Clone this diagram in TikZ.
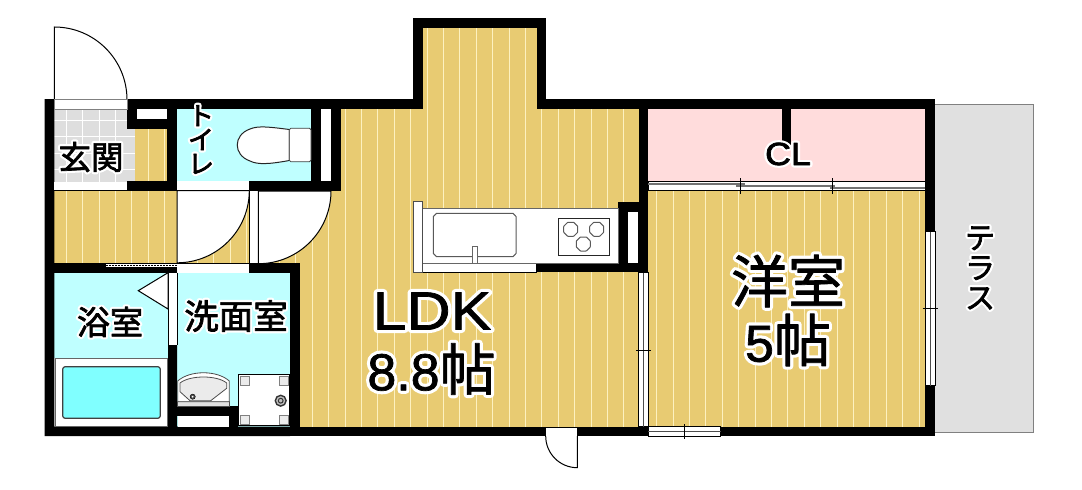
\documentclass[tikz,border=0pt]{standalone}
\usepackage{fontspec}
\setmainfont{Noto Sans CJK JP}
\newfontfamily\latinfont{Liberation Sans}
\definecolor{woodfill}{HTML}{E8CB72}
\definecolor{woodline}{HTML}{FDF1C0}
\definecolor{wetfill}{HTML}{BFFFFF}
\definecolor{tubfill}{HTML}{80FFFF}
\definecolor{closetfill}{HTML}{FFDCDC}
\definecolor{tilefill}{HTML}{DEDEDE}
\definecolor{terracefill}{HTML}{E0E0E0}
\tikzset{
 wall/.style={fill=black, draw=none},
 opening/.style={fill=white, draw=black, line width=0.8pt},
 doorleaf/.style={fill=white, draw=black, line width=1pt},
 fitting/.style={fill=white, draw=black!60, line width=1pt},
 tick/.style={draw=black, line width=0.8pt},
 rail/.style={draw=black!55, line width=1.4pt},
 roomlabel/.style={inner sep=0pt}
}
\newcommand{\halo}[2][5]{\leavevmode\rlap{\color{white}\special{pdf:code #1 w 1 j 1 J 2 Tr}#2\special{pdf:code 0 Tr}}\color{black}\special{pdf:code 0.7 w 1 j 2 Tr}#2\special{pdf:code 0 Tr}}
\begin{document}
\begin{tikzpicture}[x=1pt, y=-1pt]
\useasboundingbox (0,0) rectangle (1082,490);
\fill[white] (0,0) rectangle (1082,490);

% terrace
\draw[fill=terracefill, draw=black!50, line width=0.8pt] (935,104)--(1033,104)--(1033,432)--(935,432);

% floors
\fill[woodfill] (341,109)--(423,109)--(423,28)--(537,28)--(537,109)--(640,109)--(640,427)--(300,427)--(300,263)--(249,263)--(249,190)--(341,190)--cycle;
\fill[woodfill] (648,190) rectangle (925,427);
\fill[woodfill] (54,190) rectangle (249,264);
\fill[woodfill] (134.7,129) rectangle (168,182);
\begin{scope}
 \clip (341,109)--(423,109)--(423,28)--(537,28)--(537,109)--(640,109)--(640,427)--(300,427)--(300,263)--(249,263)--(249,190)--(341,190)--cycle
 (648,190) rectangle (925,427)
 (54,190) rectangle (249,264)
 (134.7,129) rectangle (168,182);
 \foreach \k in {0,...,52} {
  \draw[woodline, line width=1pt] ({66.3+16.4*\k},0)--({66.3+16.4*\k},440);
 }
\end{scope}
\fill[wetfill] (177,109) rectangle (311,181.5);
\fill[wetfill] (54,273) rectangle (168,358);
\fill[wetfill] (177,273) rectangle (290,427);
\fill[closetfill] (648,109) rectangle (925,181);

% entry tiles
\fill[tilefill] (54,109) rectangle (134.7,181.5);
\foreach \k in {0,...,3} {
 \draw[white, line width=1pt] ({66.3+16.4*\k},109)--({66.3+16.4*\k},181.5);
 \draw[white, line width=1pt] (54,{120+16.6*\k})--(134.7,{120+16.6*\k});
}

% walls
\fill[wall] (44.5,99)--(127,99)--(127,109)--(54.3,109)--(54.3,426.7)--(168,426.7)--(168,345)--(177,345)--(177,426.7)--(290,426.7)--(290,436)--(44.5,436)--cycle;
\fill[wall] (127,99) rectangle (341,109);
\fill[wall] (127,109) rectangle (136.7,129);
\fill[wall] (136.7,119.3) rectangle (177,129);
\fill[wall] (167.3,109) rectangle (177,190.5);
\fill[wall] (127,181.3) rectangle (177,190.5);
\fill[wall] (249.3,181.3) rectangle (341,191);
\fill[wall] (311,99) rectangle (321,191);
\fill[wall] (331,99) rectangle (341,191);
\fill[wall] (54,263.3) rectangle (106,272.7);
\fill[wall] (106,267) rectangle (177,272.7);
\fill[wall] (249.3,263.3) rectangle (300,272.7);
\fill[wall] (290,263.3) rectangle (300,436);
\fill[wall] (177,406) rectangle (238,416);
\fill[wall] (229,406) rectangle (238.3,436);
\fill[wall] (290,426.7) rectangle (925,436);
\fill[wall] (341,99) rectangle (423.3,109);
\fill[wall] (413.3,18) rectangle (423.3,109);
\fill[wall] (413.3,18) rectangle (546,28);
\fill[wall] (536.7,18) rectangle (546,109);
\fill[wall] (536.7,99) rectangle (935,109);
\fill[wall] (638.5,99) rectangle (648.3,272.5);
\fill[wall] (925,99) rectangle (935,436);
\fill[wall] (782,109) rectangle (791.3,145);

% entry door
\draw[doorleaf] (54.3,99)--(54.3,27) arc[start angle=270, end angle=360, radius=72.7];
\draw[fill=white, draw=black!50, line width=0.8pt] (54.3,99) rectangle (127,109);
\fill[white] (54.3,181.5) rectangle (127,190.3);
\draw[black, line width=0.8pt] (54.3,190.3)--(127,190.3);

% toilet and corridor doors
\fill[white] (177,181.3) rectangle (249.3,190.5);
\draw[black, line width=0.8pt] (177,190.5)--(249.3,190.5);
\draw[doorleaf] (249.3,190.5)--(177,190.5)--(177,262.8) arc[start angle=90, end angle=0, radius=72.3];
\fill[white] (249.3,191) rectangle (258.3,263.3);
\draw[black, line width=0.8pt] (249.3,191)--(249.3,263.3) (258.3,191)--(258.3,263.3);
\draw[doorleaf] (331,191)--(258.3,191)--(258.3,263.7) arc[start angle=90, end angle=0, radius=72.7];
\fill[white] (177,263.3) rectangle (249.3,272.7);
\draw[black, line width=0.6pt] (177,263.3)--(249.3,263.3);

% bath sliding door
\fill[white] (106,263.3) rectangle (177,267);
\draw[black, line width=0.6pt] (106,263.3)--(177,263.3);
\draw[black, line width=0.6pt, dash pattern=on 2pt off 1pt] (106,265.5)--(177,265.5);

% bath door and tub
\fill[white] (168,272.7) rectangle (177,345);
\draw[black, line width=0.8pt] (168,272.7)--(168,345) (177,272.7)--(177,345);
\draw[doorleaf] (168,272.7)--(168,309)--(138.3,290.7)--cycle;
\draw[fill=white, draw=black!60, line width=0.8pt] (55.3,358.3) rectangle (167.3,426);
\draw[fill=tubfill, draw=black!75, line width=1.2pt, rounded corners=2.5pt] (62.7,366.7) rectangle (160.3,418.3);

% wash basin
\fill[white] (177.5,416) rectangle (229,426.7);
\draw[fill=black!12, draw=black!70, line width=0.8pt] (177.7,401.7) rectangle (229.3,406);
\draw[fill=white, draw=black!70, line width=0.8pt] (177.7,401.7)--(177.7,381) .. controls (190,370) and (217,370) .. (229.3,381)--(229.3,401.7)--cycle;
\draw[fill=black!8, draw=black!70, line width=0.8pt] (180,391.7)--(180,383) .. controls (190,375) and (217,375) .. (226.7,383)--(226.7,388.3)--(210.7,400.7)--(190,400.7)--cycle;
\draw[fill=black!70, draw=black] (192.7,396.7) circle (2.6);
\fill[white] (192.7,396.7) circle (1);

% washer pan
\draw[fill=white, draw=black, line width=0.8pt] (238.3,374.3) rectangle (289.5,425.5);
\foreach \px/\py in {240/376,279/376,240/415,279/415} {
 \draw[fill=black!8, draw=black!50, line width=0.6pt] (\px,\py) rectangle ++(9.7,9.7);
}
\draw[fill=black!25, draw=black!80, line width=1.4pt] (280.7,400.7) circle (5.4);
\draw[black!80, line width=1pt] (280.7,400.7) circle (2.4);

% toilet
\draw[doorleaf, draw=black!85] (289.3,129.5) .. controls (270,127) and (258,125.5) .. (250,129) .. controls (233,135) and (233,155) .. (250,161) .. controls (258,165) and (270,164) .. (289.3,160.5)--cycle;
\draw[fill=white, draw=black!75, line width=0.8pt, rounded corners=1.5pt] (289.3,128.3)--(311,128.3)--(311,161.7)--(289.3,161.7)--cycle;

% kitchen
\fill[wall] (618.3,201.7) rectangle (648.3,272.4);
\fill[wall] (536.7,263.3) rectangle (648.3,272.4);
\draw[fill=white, draw=black, line width=0.6pt] (627.7,211.3) rectangle (638.7,263.3);
\draw[fill=white, draw=black, line width=0.8pt] (422.7,263.3) rectangle (536.7,272.3);
\draw[fitting] (422.7,208.3) rectangle (618.3,263.3);
\draw[fill=white, draw=black!70, line width=0.8pt] (413.3,201.7) rectangle (422.7,272.3);
\draw[black!65, line width=1pt] (436.5,213.3)--(513,213.3)--(516,216.5)--(516,253.5)--(513,256.7)--(436.5,256.7)--(433.3,253.5)--(433.3,216.5)--cycle;
\draw[fitting, line width=0.8pt] (472.3,263.3)--(472.3,246)--(477,246)--(477,263.3);
\draw[black!85, line width=0.8pt] (558.3,218.3) rectangle (609,255.3);
\foreach \bx/\by in {570.7/229.3,596.7/229.3,583.3/244} {
 \draw[black!65, line width=1pt, rounded corners=0.5pt] (\bx,\by) +(-7,-3)--+(-3,-7)--+(3,-7)--+(7,-3)--+(7,3)--+(3,7)--+(-3,7)--+(-7,3)--cycle;
}

% closet sliding doors
\draw[opening] (648.3,181) rectangle (925,190.3);
\draw[rail] (648.3,184)--(745,184);
\draw[rail] (736,186)--(835,186);
\draw[rail] (830,188)--(925,188);
\draw[tick] (740.3,178)--(740.3,194);
\draw[tick] (832.7,178)--(832.7,194);

% LDK to room sliding doors
\draw[opening] (638.7,272.7) rectangle (648.3,426.7);
\draw[black!70, line width=0.8pt] (643.5,272.7)--(643.5,426.7);
\draw[tick] (636,350)--(650.7,350);

% room window east
\draw[opening] (925,231.7) rectangle (935,385.7);
\draw[black!70, line width=0.8pt] (930,231.7)--(930,385.7);
\draw[tick] (922.5,308.7)--(937.5,308.7);

% room window south
\draw[opening] (648.3,426.7) rectangle (720.7,436.7);
\draw[black!70, line width=0.8pt] (648.3,431.7)--(720.7,431.7);
\draw[tick] (684.3,424.3)--(684.3,439);

% south door
\fill[white] (545.7,427.5) rectangle (577.3,435.5);
\draw[doorleaf] (577.3,436)--(577.3,467.7) arc[start angle=90, end angle=180, radius=31.6];

% labels
\node[roomlabel, font=\fontsize{32.5}{32.5}\selectfont] (genkan) at (91,157) {\halo{玄関}};
\node[roomlabel, font=\fontsize{26}{24}\selectfont, align=center] (toilet) at (201,139.5) {\halo{ト}\\\halo{イ}\\\halo{レ}};
\node[roomlabel, font=\fontsize{33}{33}\selectfont] (bath) at (110,322) {\halo{浴室}};
\node[roomlabel, font=\fontsize{34.5}{34.5}\selectfont] (wash) at (236,316) {\halo{洗面室}};
\node[roomlabel, font=\latinfont\fontsize{32}{32}\selectfont] (closet) at (788,154) {\scalebox{1.12}[1]{\halo{CL}}};
\node[roomlabel, font=\latinfont\fontsize{54}{54}\selectfont] (ldk) at (432,311) {\scalebox{1.13}[1]{\halo[7]{LDK}}};
\node[roomlabel, font=\fontsize{56}{56}\selectfont] (ldksize) at (431.5,369) {\halo[7]{{\latinfont\fontsize{52}{52}\selectfont 8.8}帖}};
\node[roomlabel, font=\fontsize{57}{57}\selectfont] (western) at (788,281) {\halo[7]{洋室}};
\node[roomlabel, font=\fontsize{57}{57}\selectfont] (westernsize) at (788,340) {\halo[7]{{\latinfont\fontsize{52}{52}\selectfont 5}帖}};
\node[roomlabel, font=\fontsize{30}{30}\selectfont, align=center] (terrace) at (980,268) {\halo{テ}\\\halo{ラ}\\\halo{ス}};
\end{tikzpicture}
\end{document}
